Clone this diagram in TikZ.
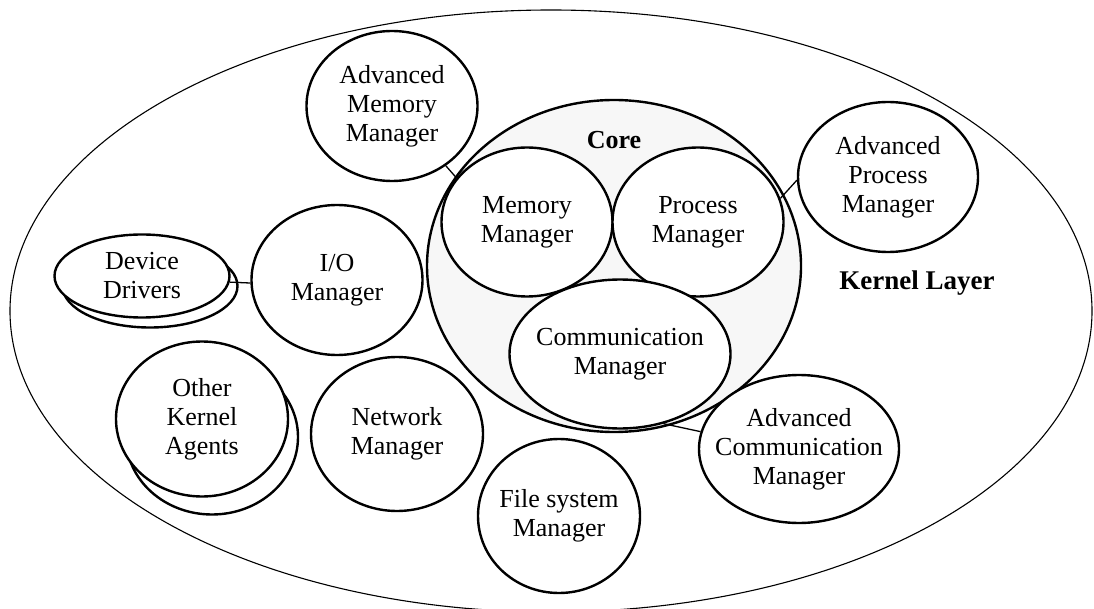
\documentclass[tikz,border=0pt]{standalone}
\usepackage{fontspec}
\setmainfont{Liberation Serif}
\usetikzlibrary{shapes.geometric}
\definecolor{coregray}{RGB}{247,247,247}

\begin{document}
\begin{tikzpicture}[x=1pt, y=-1pt,
    every node/.style={font=\fontsize{26}{29}\selectfont},
    mgr/.style={ellipse, draw, line width=2.4pt, fill=white, minimum width=172pt, minimum height=152pt},
    txt/.style={label={[align=center]center:#1}},
    link/.style={line width=1.3pt}]
    \useasboundingbox (0,0) rectangle (1094,609);
    % Define layers
    \node[ellipse, draw, line width=1.1pt, minimum width=1082pt, minimum height=602pt] (kernel) at (551,311) {};
    \node[ellipse, draw, line width=2.4pt, fill=coregray, minimum width=374pt, minimum height=332pt] (core) at (614,266) {};
    \node[font=\fontsize{26}{29}\selectfont\bfseries] (corelbl) at (614,140) {Core};
    \node[font=\fontsize{27}{29}\selectfont\bfseries] (kernellbl) at (917,283) {Kernel Layer};

    % Define core managers
    \node[mgr, minimum width=171pt, minimum height=149pt, txt={Memory\\Manager}] (mem) at (527,222) {};
    \node[mgr, minimum width=171pt, minimum height=149pt, txt={Process\\Manager}] (proc) at (698,222) {};
    \node[mgr, minimum width=221pt, minimum height=149pt, txt={Communication\\Manager}] (comm) at (620,354) {};

    % Define kernel agents
    \node[mgr, minimum width=171pt, minimum height=150pt, txt={Advanced\\Memory\\Manager}] (advmem) at (392,106) {};
    \node[mgr, minimum width=180pt, minimum height=150pt, txt={Advanced\\Process\\Manager}] (advproc) at (888,177) {};
    \node[mgr, minimum width=200pt, minimum height=148pt, txt={Advanced\\Communication\\Manager}] (advcomm) at (799,449) {};
    \node[mgr, minimum width=171pt, minimum height=150pt, txt={I/O\\Manager}] (io) at (337,280) {};
    \node[mgr, minimum width=175pt, minimum height=83pt] (ddback) at (150,286) {};
    \node[mgr, minimum width=175pt, minimum height=83pt, txt={Device\\Drivers}] (dd) at (142,276) {};
    \node[mgr, minimum width=172pt, minimum height=155pt] (okaback) at (212,437) {};
    \node[mgr, minimum width=172pt, minimum height=155pt, txt={Other\\Kernel\\Agents}] (oka) at (202,419) {};
    \node[mgr, minimum width=172pt, minimum height=154pt, txt={Network\\Manager}] (net) at (397,434) {};
    \node[mgr, minimum width=162pt, minimum height=154pt, txt={File system\\Manager}] (fs) at (559,516) {};

    % Draw links
    \draw[link] (advmem.-48) -- (mem.148); % advanced memory -> memory
    \draw[link] (proc.16) -- (advproc.182); % process -> advanced process
    \draw[link] (comm.-58) -- (advcomm.170); % communication -> advanced communication
    \draw[link] (dd.-4) -- (io.182); % drivers -> I/O
\end{tikzpicture}
\end{document}
